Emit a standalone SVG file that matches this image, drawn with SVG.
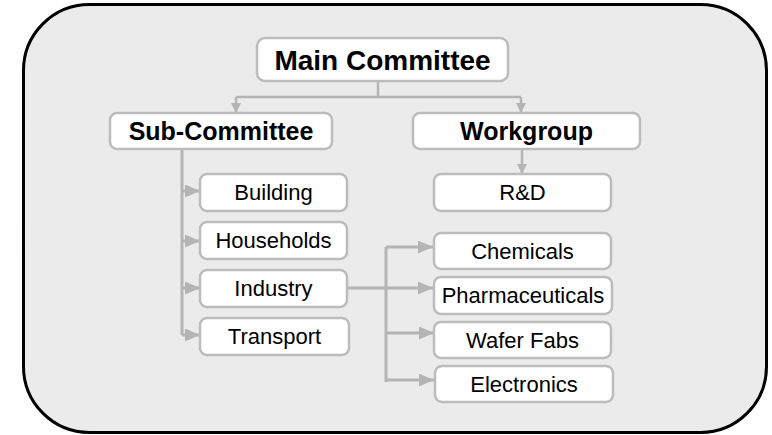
<svg xmlns="http://www.w3.org/2000/svg" width="772" height="435" viewBox="0 0 772 435">
<style>
.box{fill:#ffffff;stroke:#bcbcbc;stroke-width:2.5}
.t{font-family:"Liberation Sans",Arial,sans-serif;font-size:22px;fill:#000;text-anchor:middle}
.tb{font-family:"Liberation Sans",Arial,sans-serif;font-weight:bold;fill:#000;text-anchor:middle}
.c{fill:none;stroke:#b4b4b4;stroke-width:3}
.cs{fill:none;stroke:#b4b4b4;stroke-width:2.5}
</style>
<defs>
<marker id="a" markerUnits="userSpaceOnUse" markerWidth="15" markerHeight="13" refX="15" refY="6.5" orient="auto">
<path d="M0,0 L15,6.5 L0,13 z" fill="#b4b4b4"/>
</marker>
<marker id="s" markerUnits="userSpaceOnUse" markerWidth="10" markerHeight="10" refX="10" refY="5" orient="auto">
<path d="M0,0 L10,5 L0,10 z" fill="#b4b4b4"/>
</marker>
</defs>
<rect x="23.5" y="4.5" width="743" height="428" rx="66" ry="66" fill="#ebebeb" stroke="#000" stroke-width="3"/>
<g id="connectors">
<path class="cs" d="M378,81 V97"/>
<path class="cs" d="M236,97 H521" />
<path class="cs" d="M236,97 V113" marker-end="url(#s)"/>
<path class="cs" d="M521,97 V113" marker-end="url(#s)"/>
<path class="cs" d="M522,149 V174" marker-end="url(#s)"/>
<path class="c" d="M182,149 V335"/>
<path class="c" d="M182,191 H200" marker-end="url(#a)"/>
<path class="c" d="M182,241 H200" marker-end="url(#a)"/>
<path class="c" d="M182,288 H200" marker-end="url(#a)"/>
<path class="c" d="M182,335 H200" marker-end="url(#a)"/>
<path class="c" d="M347,288 H433" marker-end="url(#a)"/>
<path class="c" d="M386,247 V382"/>
<path class="c" d="M386,247 H433" marker-end="url(#a)"/>
<path class="c" d="M386,333 H434" marker-end="url(#a)"/>
<path class="c" d="M386,380 H434" marker-end="url(#a)"/>
</g>
<g id="main"><rect class="box" x="257" y="38" width="251" height="43" rx="8"/><text class="tb" x="382.5" y="70" font-size="28">Main Committee</text></g>
<g id="sub"><rect class="box" x="110" y="113" width="222" height="36" rx="7"/><text class="tb" x="221" y="140" font-size="25">Sub-Committee</text></g>
<g id="workgroup"><rect class="box" x="413" y="113" width="227" height="36" rx="7"/><text class="tb" x="526.5" y="140" font-size="25">Workgroup</text></g>
<g id="building"><rect class="box" x="200" y="174" width="147" height="37" rx="7"/><text class="t" x="273.5" y="200">Building</text></g>
<g id="households"><rect class="box" x="200" y="222" width="147" height="37" rx="7"/><text class="t" x="273.5" y="248">Households</text></g>
<g id="industry"><rect class="box" x="200" y="270" width="147" height="37" rx="7"/><text class="t" x="273.5" y="296">Industry</text></g>
<g id="transport"><rect class="box" x="200" y="318" width="149" height="37" rx="7"/><text class="t" x="274.5" y="344">Transport</text></g>
<g id="rd"><rect class="box" x="434" y="174" width="177" height="37" rx="7"/><text class="t" x="522.5" y="200">R&amp;D</text></g>
<g id="chemicals"><rect class="box" x="434" y="233" width="177" height="36" rx="7"/><text class="t" x="522.5" y="259">Chemicals</text></g>
<g id="pharma"><rect class="box" x="434" y="277" width="178" height="37" rx="7"/><text class="t" x="523" y="303">Pharmaceuticals</text></g>
<g id="wafer"><rect class="box" x="434" y="322" width="177" height="36" rx="7"/><text class="t" x="522.5" y="348">Wafer Fabs</text></g>
<g id="electronics"><rect class="box" x="435" y="366" width="178" height="36" rx="7"/><text class="t" x="524" y="392">Electronics</text></g>
</svg>
